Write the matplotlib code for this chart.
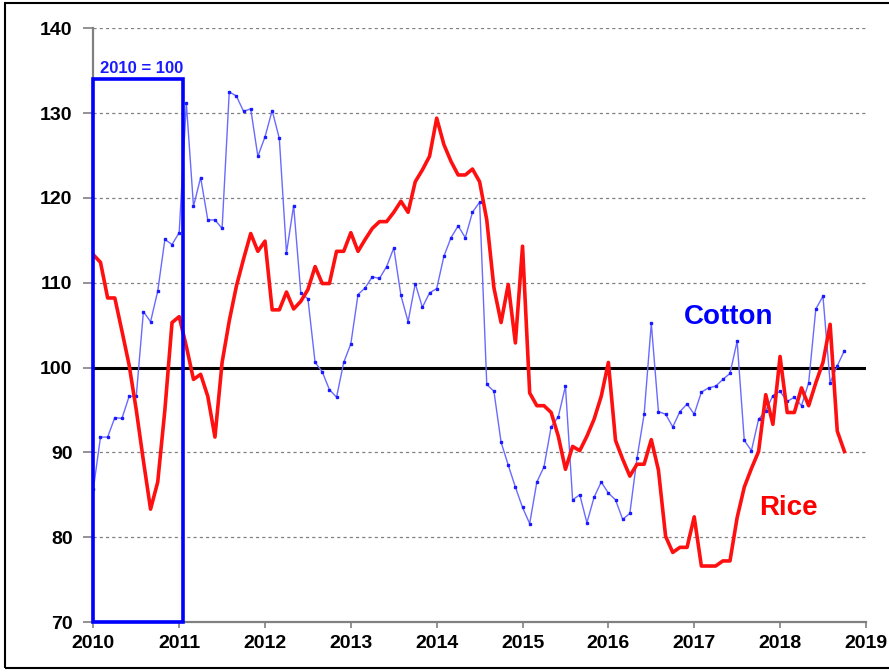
import matplotlib

matplotlib.use("Agg")
import matplotlib.pyplot as plt
from matplotlib.patches import Rectangle
import numpy as np

# monthly index values, Jan 2010 .. Oct 2018 (2010 = 100)
start_year = 2010
cotton = [
    85.7, 91.8, 91.8, 94.1, 94.0, 96.6, 96.6, 106.6, 105.4, 109.0, 115.1, 114.5,
    115.9, 131.2, 119.0, 122.4, 117.4, 117.4, 116.4, 132.5, 132.0, 130.2, 130.5, 124.9,
    127.2, 130.3, 127.0, 113.5, 119.1, 108.8, 108.1, 100.6, 99.5, 97.4, 96.5, 100.6,
    102.8, 108.6, 109.4, 110.7, 110.5, 111.9, 114.1, 108.5, 105.4, 109.9, 107.1, 108.8,
    109.3, 113.1, 115.3, 116.7, 115.3, 118.3, 119.5, 98.0, 97.2, 91.2, 88.5, 85.9,
    83.5, 81.6, 86.5, 88.3, 93.0, 94.2, 97.8, 84.4, 85.0, 81.7, 84.7, 86.5,
    85.2, 84.4, 82.1, 82.8, 89.3, 94.5, 105.2, 94.8, 94.5, 93.0, 94.8, 95.7,
    94.5, 97.1, 97.6, 97.8, 98.6, 99.3, 103.1, 91.4, 90.2, 93.9, 94.9, 96.7,
    97.2, 96.0, 96.5, 95.5, 98.2, 106.9, 108.4, 98.2, 100.2, 102.0,
]
rice = [
    113.3, 112.4, 108.2, 108.2, 104.3, 100.3, 95.0, 89.0, 83.3, 86.5, 95.0, 105.3,
    106.0, 102.5, 98.6, 99.2, 96.6, 91.8, 100.6, 105.5, 109.6, 112.8, 115.8, 113.7,
    114.9, 106.8, 106.8, 108.9, 106.9, 107.8, 109.2, 111.9, 109.9, 109.9, 113.7, 113.7,
    115.9, 113.7, 115.1, 116.4, 117.2, 117.2, 118.3, 119.6, 118.3, 121.9, 123.3, 124.9,
    129.4, 126.3, 124.3, 122.7, 122.7, 123.4, 121.9, 117.4, 109.4, 105.3, 109.8, 102.9,
    114.3, 97.0, 95.5, 95.5, 94.7, 91.9, 88.0, 90.7, 90.2, 91.9, 93.9, 96.6,
    100.6, 91.4, 89.2, 87.2, 88.6, 88.6, 91.5, 87.9, 80.1, 78.2, 78.8, 78.8,
    82.4, 76.6, 76.6, 76.6, 77.2, 77.2, 82.3, 85.9, 88.1, 90.1, 96.8, 93.3,
    101.3, 94.7, 94.7, 97.6, 95.5, 98.2, 100.6, 105.1, 92.5, 90.1,
]
x_ticks = list(range(2010, 2020))
y_ticks = [70, 80, 90, 100, 110, 120, 130, 140]
base_label = "2010 = 100"

t_cotton = start_year + np.arange(len(cotton)) / 12
t_rice = start_year + np.arange(len(rice)) / 12

sans = ["Liberation Sans", "DejaVu Sans"]

fig = plt.figure(figsize=(8.89, 6.72), dpi=100)
ax = fig.add_axes([0.105, 0.0744, 0.869, 0.8836])

# grid (skip 70 and 100)
for v in y_ticks:
    if v in (70, 100):
        continue
    ax.axhline(v, color="#808080", lw=0.9, ls=(0, (2.5, 2.5)), zorder=1)
ax.axhline(100, color="black", lw=2.2, zorder=2)

ax.plot(t_cotton, cotton, color="#6a6aff", lw=1.0, marker="s", ms=1.8,
        mfc="#1a1aff", mec="#1a1aff", zorder=3)
ax.plot(t_rice, rice, color="#ff1010", lw=2.6, zorder=4)

# base-year box
ax.add_patch(Rectangle((2010, 70), 1.04, 64, fill=False, ec="#0000ff",
                       lw=2.6, zorder=5, clip_on=False))
ax.text(2010.08, 134.7, base_label, color="#1a1aff", fontsize=12,
        fontweight="bold", family=sans, ha="left", va="baseline")

ax.text(2017.4, 106.0, "Cotton", color="#0000ff", fontsize=20,
        fontweight="bold", family=sans, ha="center", va="center")
ax.text(2018.1, 83.4, "Rice", color="#ff0000", fontsize=20,
        fontweight="bold", family=sans, ha="center", va="center")

ax.set_xlim(2010, 2019)
ax.set_ylim(70, 140)
ax.set_xticks(x_ticks)
ax.set_yticks(y_ticks)
ax.set_xticklabels([str(v) for v in x_ticks])
ax.set_yticklabels([str(v) for v in y_ticks])
for lab in ax.get_xticklabels() + ax.get_yticklabels():
    lab.set_family(sans)
    lab.set_fontweight("bold")
    lab.set_fontsize(14)
ax.tick_params(axis="x", direction="out", length=4, width=1.2,
               color="#808080", pad=5)
ax.tick_params(axis="y", direction="out", length=7, width=1.2,
               color="#808080", pad=8)

for side in ("top", "right"):
    ax.spines[side].set_visible(False)
for side in ("left", "bottom"):
    ax.spines[side].set_color("#808080")
    ax.spines[side].set_linewidth(1.6)

# outer frame of the original picture
fig.patches.append(Rectangle((0.006, 0.006), 1.2, 0.99, transform=fig.transFigure,
                             fill=False, ec="black", lw=1.5))

fig.savefig("out.png", dpi=100)
